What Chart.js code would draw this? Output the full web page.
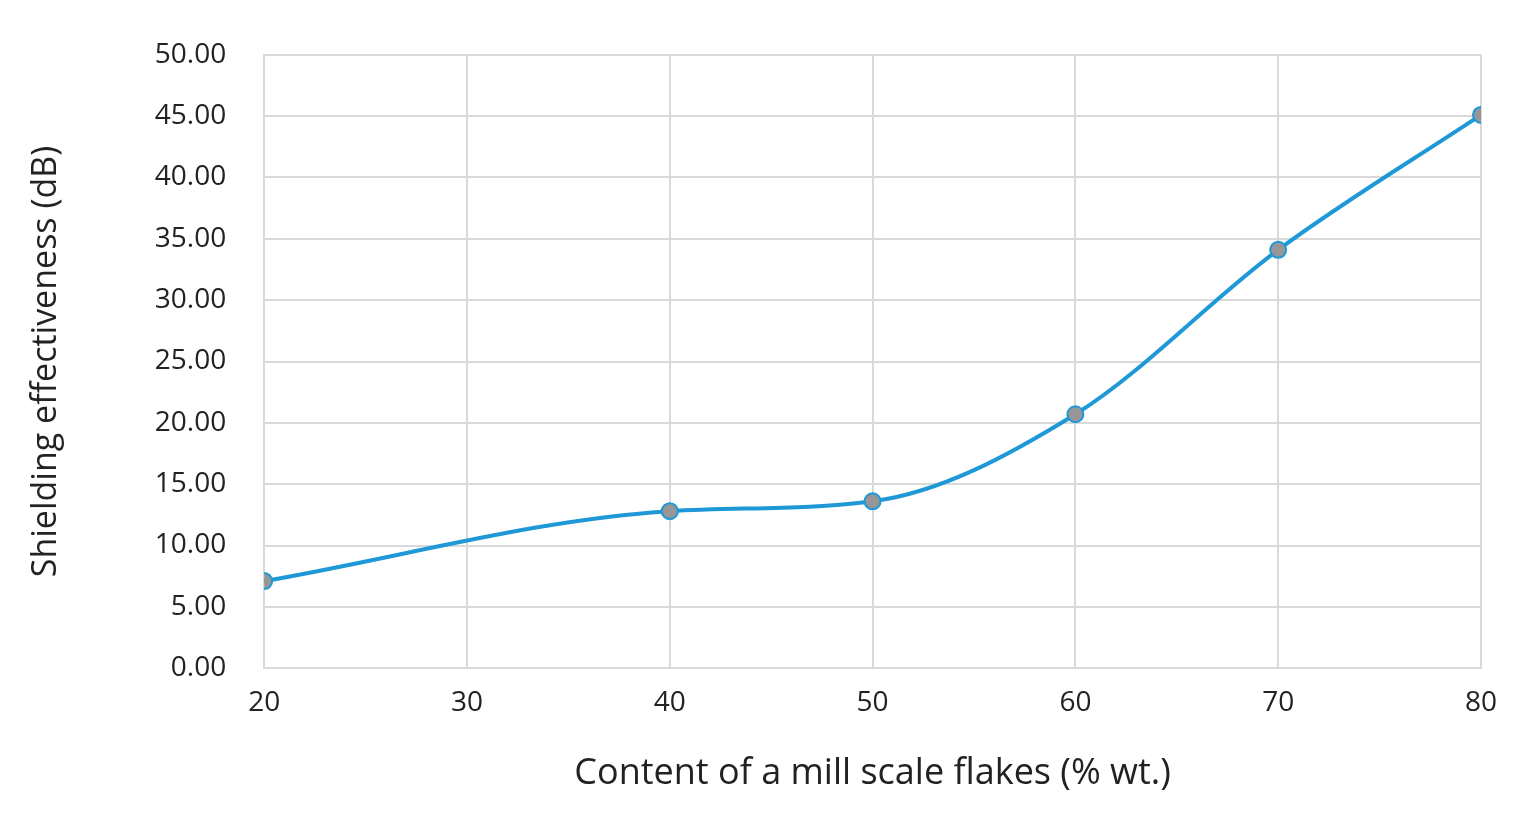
<!DOCTYPE html>
<html>
<head>
<meta charset="utf-8">
<script src="https://cdn.jsdelivr.net/npm/chart.js@4"></script>
<style>
  html, body { margin: 0; padding: 0; background: #fff; }
  #wrap { width: 1530px; height: 827px; }
</style>
</head>
<body>
<div id="wrap"><canvas id="lineChart"></canvas></div>
<script>
const xValues = [20, 40, 50, 60, 70, 80];
const yValues = [7.1, 12.8, 13.6, 20.7, 34.1, 45.1];

const ctx = document.getElementById('lineChart').getContext('2d');

new Chart(ctx, {
  type: 'line',
  data: {
    datasets: [{
      data: xValues.map((x, i) => ({ x: x, y: yValues[i] })),
      borderColor: 'rgb(30, 152, 214)',
      borderWidth: 4,
      backgroundColor: 'rgb(150, 150, 150)',
      pointBorderColor: 'rgb(30, 152, 214)',
      pointBorderWidth: 2,
      pointRadius: 8,
      tension: 0.4,
      cubicInterpolationMode: 'monotone'
    }]
  },
  options: {
    responsive: true,
    maintainAspectRatio: false,
    animation: false,
    layout: { padding: { top: 26, right: 49, left: 22, bottom: 28 } },
    plugins: { legend: { display: false }, tooltip: { enabled: false } },
    scales: {
      x: {
        type: 'linear',
        min: 20, max: 80,
        ticks: { stepSize: 10, color: '#222', font: { family: 'Open Sans', size: 28 }, padding: 18 },
        grid: { color: '#d9d9d9', lineWidth: 2, drawTicks: false },
        border: { color: '#d9d9d9', width: 2 },
        title: { display: true, text: 'Content of a mill scale flakes (% wt.)', color: '#222', font: { family: 'Open Sans', size: 36 }, padding: { top: 14 } }
      },
      y: {
        min: 0, max: 50,
        ticks: { stepSize: 5, color: '#222', font: { family: 'Open Sans', size: 28 }, padding: 38,
                 callback: v => v.toFixed(2) },
        grid: { color: '#d9d9d9', lineWidth: 2, drawTicks: false },
        border: { color: '#d9d9d9', width: 2 },
        title: { display: true, text: 'Shielding effectiveness (dB)', color: '#222', font: { family: 'Open Sans', size: 34 }, padding: { bottom: 50 } }
      }
    }
  }
});
</script>
</body>
</html>
